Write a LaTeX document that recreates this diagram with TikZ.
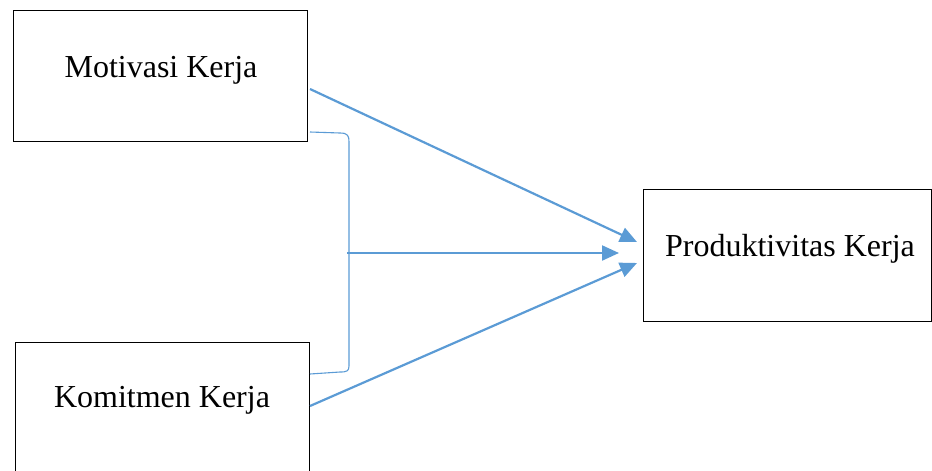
\documentclass[tikz,border=0pt]{standalone}
\usepackage{fontspec}
\setmainfont{Liberation Serif}
\usetikzlibrary{arrows.meta,calc}
\definecolor{arrowblue}{HTML}{5B9BD5}
\tikzset{
  box/.style={draw=black, line width=1.1pt, inner sep=0pt},
  lbl/.style={font=\fontsize{32}{36}\selectfont, inner sep=0pt, anchor=center},
  conn/.style={draw=arrowblue, line width=2.2pt, -{Triangle[length=17pt,width=15pt]}},
  brace/.style={draw=arrowblue, line width=1.1pt}
}
\begin{document}
\begin{tikzpicture}[x=1pt,y=-1pt]
\useasboundingbox (0,0) rectangle (932,471);
% boxes
\node[box, minimum width=294pt, minimum height=131pt, anchor=north west] (mot) at (13,10) {};
\node[box, minimum width=294pt, minimum height=140pt, anchor=north west] (kom) at (15,342) {};
\node[box, minimum width=288pt, minimum height=132pt, anchor=north west] (prod) at (643,189) {};
% labels
\node[lbl] (motl) at (161,70) {Motivasi Kerja};
\node[lbl] (koml) at (162,400) {Komitmen Kerja};
\node[lbl] (prodl) at (790,249) {Produktivitas Kerja};
% connector end points
\coordinate (m1) at (310,89);
\coordinate (k1) at (310,406);
\coordinate (p1) at (637,242);
\coordinate (p2) at (637,263);
\coordinate (b1) at (347,253);
\coordinate (p3) at (619,253);
\coordinate (bt) at (310,132);
\coordinate (bb) at (310,374);
% arrows
\draw[conn] (m1) -- (p1);
\draw[conn] (k1) -- (p2);
\draw[conn] (b1) -- (p3);
% bracket
\draw[brace] (bt) -- (340,133) .. controls (348,133) and (349,136) .. (349,142)
  -- (349,366) .. controls (349,371) and (347,372) .. (340,372) -- (bb);
\end{tikzpicture}
\end{document}
